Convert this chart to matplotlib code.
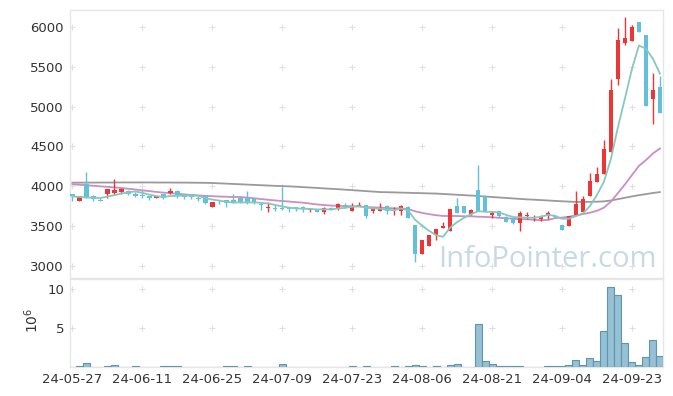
import matplotlib
matplotlib.use("Agg")
import matplotlib.pyplot as plt
import numpy as np
import pandas as pd

# trading days, KRX holidays skipped
holidays = ["2024-06-06", "2024-08-15", "2024-09-16", "2024-09-17", "2024-09-18"]
dates = pd.bdate_range("2024-05-27", "2024-09-27", freq="C", holidays=holidays)

opens = [3905, 3810, 4020, 3880, 3820, 3905, 3910, 3925, 3940, 3895,
         3885, 3880, 3845, 3905, 3915, 3935, 3895, 3895, 3850, 3870,
         3735, 3805, 3820, 3830, 3855, 3855, 3855, 3780, 3720, 3725,
         3720, 3720, 3725, 3730, 3695, 3705, 3670, 3725, 3710, 3765,
         3685, 3745, 3755, 3685, 3685, 3745, 3705, 3685, 3740, 3505,
         3140, 3250, 3380, 3470, 3440, 3745, 3745, 3650, 3945, 3880,
         3630, 3680, 3615, 3595, 3540, 3620, 3600, 3580, 3620, 3620,
         3515, 3495, 3640, 3670, 3880, 4045, 4155, 4430, 5345, 5795,
         5825, 6060, 5900, 5100, 5250]
highs = [3905, 3870, 4175, 3890, 3850, 3965, 4085, 3980, 3950, 3925,
         3950, 3880, 3870, 3905, 3975, 3950, 3895, 3900, 3870, 3880,
         3805, 3830, 3820, 3895, 3855, 3935, 3855, 3800, 3800, 3755,
         3985, 3735, 3740, 3745, 3725, 3710, 3730, 3735, 3785, 3790,
         3785, 3800, 3760, 3725, 3785, 3760, 3740, 3755, 3750, 3505,
         3315, 3390, 3465, 3545, 3715, 3850, 3745, 3710, 4260, 3890,
         3690, 3680, 3620, 3600, 3690, 3670, 3640, 3630, 3680, 3625,
         3515, 3620, 3940, 3870, 4160, 4240, 4575, 5345, 5990, 6120,
         6025, 6060, 5900, 5425, 5380]
lows = [3810, 3810, 3845, 3810, 3810, 3855, 3890, 3900, 3890, 3860,
        3850, 3830, 3845, 3840, 3895, 3845, 3840, 3840, 3815, 3770,
        3735, 3775, 3730, 3785, 3790, 3770, 3770, 3700, 3670, 3685,
        3700, 3670, 3690, 3675, 3675, 3670, 3650, 3700, 3700, 3725,
        3680, 3745, 3600, 3655, 3685, 3650, 3630, 3630, 3595, 3050,
        3140, 3250, 3315, 3470, 3440, 3665, 3660, 3630, 3680, 3680,
        3600, 3615, 3545, 3520, 3430, 3580, 3565, 3565, 3590, 3600,
        3450, 3495, 3640, 3670, 3880, 4045, 4155, 4430, 5270, 5780,
        5825, 5940, 5010, 4785, 4920]
closes = [3875, 3870, 3850, 3835, 3815, 3965, 3955, 3960, 3905, 3875,
          3875, 3845, 3870, 3845, 3935, 3890, 3860, 3865, 3835, 3785,
          3805, 3795, 3785, 3785, 3800, 3800, 3800, 3760, 3735, 3715,
          3710, 3715, 3720, 3705, 3710, 3675, 3725, 3710, 3770, 3745,
          3745, 3760, 3620, 3725, 3725, 3685, 3715, 3745, 3595, 3140,
          3315, 3390, 3465, 3495, 3715, 3665, 3660, 3695, 3680, 3680,
          3660, 3620, 3550, 3540, 3660, 3640, 3615, 3610, 3660, 3605,
          3450, 3620, 3770, 3840, 4060, 4145, 4460, 5205, 5835, 5860,
          5995, 5940, 5010, 5205, 4920]
# volume in millions of shares
volumes = [0.03, 0.1, 0.45, 0.03, 0.03, 0.1, 0.25, 0.03, 0.03, 0.1,
           0.03, 0.03, 0.03, 0.1, 0.1, 0.1, 0.03, 0.03, 0.03, 0.03,
           0.03, 0.03, 0.1, 0.1, 0.03, 0.1, 0.03, 0.03, 0.03, 0.03,
           0.35, 0.03, 0.03, 0.03, 0.03, 0.03, 0.03, 0.03, 0.03, 0.03,
           0.1, 0.03, 0.1, 0.03, 0.03, 0.03, 0.1, 0.03, 0.1, 0.25,
           0.1, 0.03, 0.1, 0.03, 0.2, 0.35, 0.03, 0.03, 5.55, 0.75,
           0.33, 0.1, 0.1, 0.1, 0.1, 0.03, 0.03, 0.03, 0.1, 0.1,
           0.1, 0.3, 0.9, 0.3, 1.15, 0.8, 4.55, 10.2, 9.25, 3.05,
           0.6, 0.25, 1.3, 3.4, 1.4]
ma5 = [3870, 3862, 3856, 3851, 3849, 3867, 3884, 3906, 3920, 3932,
       3914, 3892, 3874, 3862, 3874, 3877, 3880, 3879, 3877, 3847,
       3830, 3817, 3801, 3791, 3794, 3793, 3794, 3789, 3779, 3762,
       3744, 3727, 3719, 3713, 3712, 3705, 3707, 3705, 3718, 3725,
       3739, 3746, 3728, 3719, 3715, 3703, 3694, 3719, 3693, 3576,
       3502, 3437, 3381, 3361, 3476, 3546, 3600, 3646, 3683, 3676,
       3675, 3667, 3638, 3610, 3606, 3602, 3601, 3613, 3637, 3626,
       3588, 3589, 3621, 3657, 3748, 3887, 4055, 4342, 4741, 5101,
       5471, 5767, 5728, 5602, 5414]
ma20 = [4022, 4016, 4010, 4003, 3996, 3990, 3983, 3975, 3966, 3956,
        3946, 3936, 3926, 3917, 3910, 3903, 3895, 3888, 3882, 3876,
        3872, 3868, 3865, 3862, 3862, 3854, 3846, 3836, 3827, 3819,
        3811, 3805, 3797, 3790, 3779, 3768, 3761, 3754, 3750, 3748,
        3745, 3744, 3735, 3732, 3729, 3723, 3719, 3718, 3711, 3682,
        3662, 3646, 3633, 3623, 3623, 3623, 3619, 3619, 3614, 3611,
        3607, 3600, 3596, 3587, 3584, 3581, 3576, 3570, 3573, 3596,
        3603, 3614, 3630, 3647, 3664, 3688, 3728, 3804, 3911, 4020,
        4137, 4253, 4326, 4409, 4472]
ma120 = [4042, 4042, 4043, 4043, 4044, 4044, 4044, 4045, 4045, 4045,
         4045, 4045, 4044, 4044, 4044, 4043, 4043, 4042, 4041, 4040,
         4038, 4034, 4030, 4026, 4022, 4018, 4014, 4010, 4006, 4002,
         3999, 3996, 3991, 3986, 3981, 3976, 3970, 3965, 3960, 3954,
         3948, 3942, 3936, 3930, 3924, 3922, 3920, 3917, 3915, 3912,
         3910, 3907, 3905, 3900, 3895, 3890, 3885, 3880, 3875, 3868,
         3862, 3856, 3850, 3844, 3838, 3832, 3828, 3823, 3818, 3813,
         3808, 3804, 3800, 3800, 3801, 3803, 3807, 3818, 3835, 3852,
         3869, 3885, 3898, 3912, 3924]

UP = "#ee3535"
DOWN = "#62c0da"
EDGE = "#e6e6e6"
TXT = "#333333"

fig = plt.figure(figsize=(6.73, 3.96), dpi=100)
ax = fig.add_axes([0.1033, 0.2992, 0.8819, 0.6755])
axv = fig.add_axes([0.1033, 0.0732, 0.8819, 0.2223])

x = np.arange(len(dates))
o = np.array(opens)
c = np.array(closes)
cols = np.where(c >= o, UP, DOWN)
body_h = np.maximum(np.abs(c - o), 10)
body_b = np.minimum(o, c)

ax.vlines(x, lows, highs, colors=cols, lw=1.0, zorder=3)
ax.bar(x, body_h, bottom=body_b, width=0.66, color=cols, lw=0, zorder=4)
ax.plot(x, ma120, color="#9a9a9a", lw=1.3, zorder=2)
ax.plot(x, ma20, color="#cc8cc4", lw=1.3, zorder=2)
ax.plot(x, ma5, color="#86c8bc", lw=1.3, zorder=5)

axv.bar(x, volumes, width=1.0, color="#96c0d3", edgecolor="#5f95ae", lw=0.8, zorder=3)

xt = np.arange(0, len(dates), 10)
price_ticks = np.arange(3000, 6001, 500)
vol_ticks = [5, 10]

for a, yt in ((ax, price_ticks), (axv, vol_ticks)):
    gx, gy = np.meshgrid(xt, yt)
    a.plot(gx.ravel(), gy.ravel(), "+", color="#e0e0e0", ms=4.5, mew=0.8, zorder=1)
    a.set_xlim(-0.4, 84.45)
    a.set_yticks(yt)
    for s in a.spines.values():
        s.set_color(EDGE)
        s.set_linewidth(1)
    a.tick_params(length=0, labelsize=9.5, colors=TXT, pad=4)

ax.set_ylim(2849, 6214)
ax.set_xticks(xt)
ax.set_xticklabels([])
axv.set_ylim(0, 11.25)
axv.set_xticks(xt)
axv.set_xticklabels([d.strftime("%y-%m-%d") for d in dates[xt]])
axv.tick_params(axis="x", pad=4)

fig.text(32 / 673, 1 - 320 / 396, r"$10^6$", rotation=90, ha="center", va="center",
         fontsize=10, color=TXT)

ax.text(0.99, 0.04, "InfoPointer.com", transform=ax.transAxes, ha="right",
        va="baseline", fontsize=21, color="#c6d9e5", family="Open Sans", zorder=0)

fig.savefig("out.png", dpi=100)
